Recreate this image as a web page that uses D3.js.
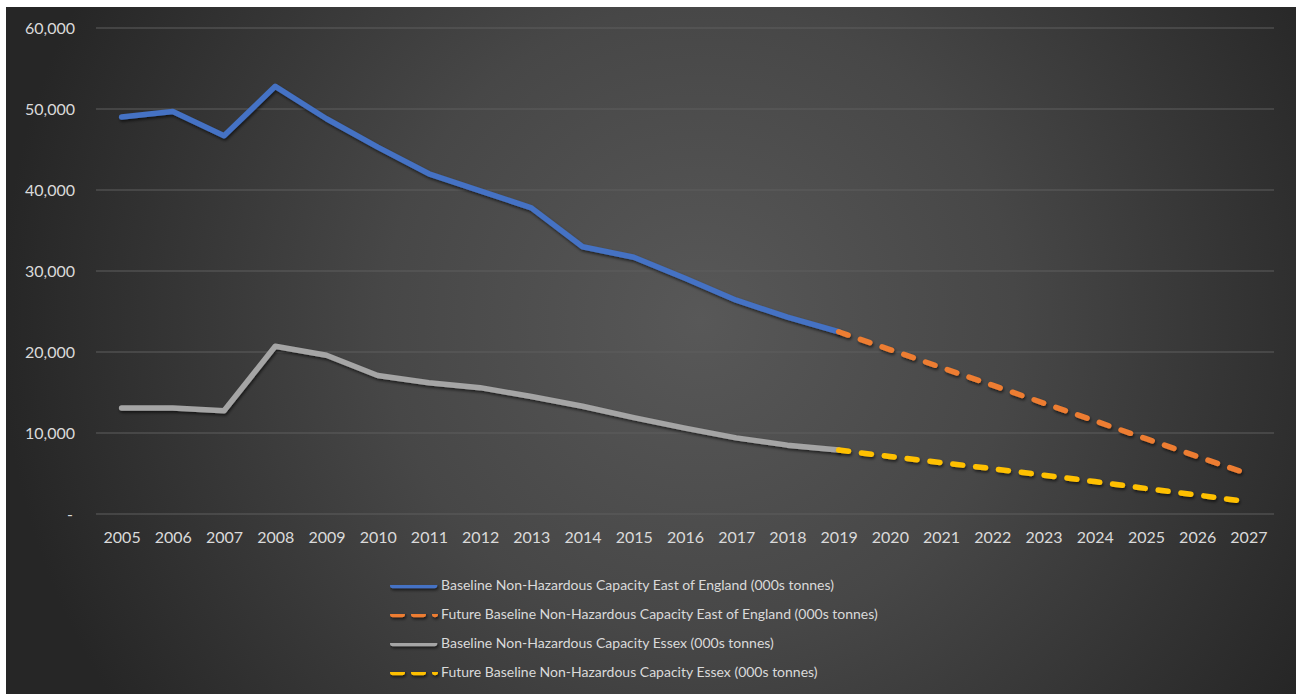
<!DOCTYPE html>
<html>
<head>
<meta charset="utf-8">
<script src="https://cdn.jsdelivr.net/npm/d3@7"></script>
<style>
  html, body { margin: 0; padding: 0; background: #ffffff; }
  svg { display: block; }
</style>
</head>
<body>
<svg id="chart" width="1303" height="694"></svg>
<script>
// Years on the category axis
const years = ["2005","2006","2007","2008","2009","2010","2011","2012","2013","2014","2015","2016",
               "2017","2018","2019","2020","2021","2022","2023","2024","2025","2026","2027"];

// Historic capacity, East of England (000s tonnes), 2005–2019
const eastYears = years.slice(0, 15);
const eastValues = [49000, 49700, 46700, 52800, 48800, 45300, 42000, 39900, 37800, 33000, 31700, 29100, 26400, 24300, 22500];

// Projected capacity, East of England, 2019–2027
const eastFutureYears = years.slice(14);
const eastFutureValues = [22500, 20300, 18100, 15900, 13700, 11500, 9300, 7100, 4950];

// Historic capacity, Essex, 2005–2019
const essexYears = years.slice(0, 15);
const essexValues = [13100, 13100, 12750, 20700, 19600, 17100, 16200, 15600, 14500, 13300, 11900, 10600, 9400, 8500, 7900];

// Projected capacity, Essex, 2019–2027
const essexFutureYears = years.slice(14);
const essexFutureValues = [7900, 7100, 6350, 5600, 4800, 4000, 3150, 2350, 1500];

const yTicks = [0, 10000, 20000, 30000, 40000, 50000, 60000];

const seriesNames = [
  "Baseline Non-Hazardous Capacity East of England (000s tonnes)",
  "Future Baseline Non-Hazardous Capacity East of England (000s tonnes)",
  "Baseline Non-Hazardous Capacity Essex (000s tonnes)",
  "Future Baseline Non-Hazardous Capacity Essex (000s tonnes)"
];
const seriesColors = ["#4472C4", "#ED7D31", "#A5A5A5", "#FFC000"];

const series = [
  { name: seriesNames[0], x: eastYears, y: eastValues, color: seriesColors[0], dashed: false },
  { name: seriesNames[1], x: eastFutureYears, y: eastFutureValues, color: seriesColors[1], dashed: true },
  { name: seriesNames[2], x: essexYears, y: essexValues, color: seriesColors[2], dashed: false },
  { name: seriesNames[3], x: essexFutureYears, y: essexFutureValues, color: seriesColors[3], dashed: true }
];

const svg = d3.select("#chart");
const font = "Lato, 'Open Sans', sans-serif";
const textColor = "#dadada";

// Chart area frame (white margin on left/top/right)
const area = { x: 6, y: 7, w: 1290, h: 687 };

const defs = svg.append("defs");
const grad = defs.append("radialGradient")
  .attr("id", "bg")
  .attr("gradientUnits", "userSpaceOnUse")
  .attr("cx", 700).attr("cy", 320).attr("r", 700)
  .attr("fx", 700).attr("fy", 320);
grad.append("stop").attr("offset", "0%").attr("stop-color", "#585858");
grad.append("stop").attr("offset", "45%").attr("stop-color", "#474747");
grad.append("stop").attr("offset", "100%").attr("stop-color", "#262626");

// Soft drop shadow under the lines; region in user space so flat legend strokes keep it
const shadow = defs.append("filter").attr("id", "shadow")
  .attr("filterUnits", "userSpaceOnUse")
  .attr("x", 0).attr("y", 0).attr("width", 1303).attr("height", 694);
shadow.append("feDropShadow")
  .attr("dx", 1).attr("dy", 2).attr("stdDeviation", 1.5)
  .attr("flood-color", "#000").attr("flood-opacity", 0.6);

svg.append("rect")
  .attr("x", area.x).attr("y", area.y)
  .attr("width", area.w).attr("height", area.h)
  .attr("fill", "url(#bg)");

// Plot region
const plot = { left: 96, right: 1274, top: 28, bottom: 514 };

const x = d3.scalePoint()
  .domain(years)
  .range([plot.left, plot.right])
  .padding(0.5);

const y = d3.scaleLinear()
  .domain([0, 60000])
  .range([plot.bottom, plot.top]);

// Horizontal gridlines
svg.append("g")
  .selectAll("line")
  .data(yTicks)
  .join("line")
  .attr("x1", plot.left).attr("x2", plot.right)
  .attr("y1", d => y(d)).attr("y2", d => y(d))
  .attr("stroke", "#5e5e5e")
  .attr("stroke-width", 1);

// Y axis labels
const yAxis = d3.axisLeft(y)
  .tickValues(yTicks)
  .tickSize(0)
  .tickPadding(0)
  .tickFormat(d => d === 0 ? "-" : d3.format(",")(d));
const gy = svg.append("g")
  .attr("transform", `translate(${75},0)`)
  .call(yAxis);
gy.select(".domain").remove();
gy.selectAll("text")
  .attr("fill", textColor)
  .attr("font-family", font)
  .attr("font-size", "16px")
  .attr("dy", "0.35em")
  .filter(d => d === 0)
  .attr("dx", "-2");

// X axis labels
const xAxis = d3.axisBottom(x).tickSize(0).tickPadding(0);
const gx = svg.append("g")
  .attr("transform", `translate(0,${537})`)
  .call(xAxis);
gx.select(".domain").remove();
gx.selectAll("text")
  .attr("fill", textColor)
  .attr("font-family", font)
  .attr("font-size", "16px")
  .attr("dy", "0.35em");

// Lines
const line = d3.line()
  .x(d => x(d[0]))
  .y(d => y(d[1]));

svg.append("g")
  .selectAll("path")
  .data(series)
  .join("path")
  .attr("d", s => line(s.x.map((yr, i) => [yr, s.y[i]])))
  .attr("fill", "none")
  .attr("stroke", s => s.color)
  .attr("stroke-width", 5.5)
  .attr("stroke-linejoin", "round")
  .attr("stroke-linecap", "round")
  .attr("stroke-dasharray", s => s.dashed ? "10,13" : null)
  .attr("filter", "url(#shadow)");

// Legend: dashed keys show two dashes and a trailing dot
const legend = svg.append("g");
const legendRows = legend.selectAll("g")
  .data(series)
  .join("g")
  .attr("transform", (d, i) => `translate(390,${585.5 + i * 29})`);

legendRows.append("line")
  .attr("x1", 2.75).attr("x2", d => d.dashed ? 45.25 : 44.5)
  .attr("y1", 0).attr("y2", 0)
  .attr("stroke", d => d.color)
  .attr("stroke-width", 5.5)
  .attr("stroke-linecap", "round")
  .attr("stroke-dasharray", d => d.dashed ? "9.5,11.5" : null)
  .attr("filter", "url(#shadow)");

legendRows.append("text")
  .attr("x", 51)
  .attr("y", 0)
  .attr("dy", "0.35em")
  .attr("fill", textColor)
  .attr("font-family", font)
  .attr("font-size", "14px")
  .text(d => d.name);
</script>
</body>
</html>
